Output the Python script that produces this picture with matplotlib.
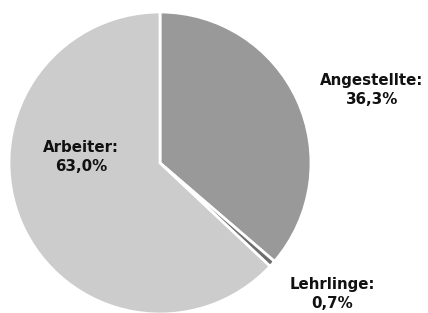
import matplotlib.pyplot as plt

labels = ["Angestellte", "Lehrlinge", "Arbeiter"]
shares = [36.3, 0.7, 63.0]
colors = ["#999999", "#6e6e6e", "#cccccc"]

W, H = 428, 313
fig = plt.figure(figsize=(W / 100, H / 100), dpi=100)
ax = fig.add_axes([0, 0, 1, 1])

ax.pie(shares, colors=colors, startangle=90, counterclock=False,
       center=(160, H - 163), radius=151,
       wedgeprops=dict(edgecolor="white", linewidth=2))
ax.set_xlim(0, W)
ax.set_ylim(0, H)
ax.set_aspect("equal")
ax.axis("off")

# label positions (pixels from top-left)
label_pos = [(372, 90), (332, 294), (81, 157)]
for name, val, (x, y) in zip(labels, shares, label_pos):
    txt = f"{name}:\n{val:.1f}%".replace(".", ",")
    ax.text(x, H - y, txt, ha="center", va="center", fontsize=10.8,
            fontweight="bold", color="#111111", linespacing=1.35,
            family="DejaVu Sans")

fig.savefig("out.png", dpi=100)
